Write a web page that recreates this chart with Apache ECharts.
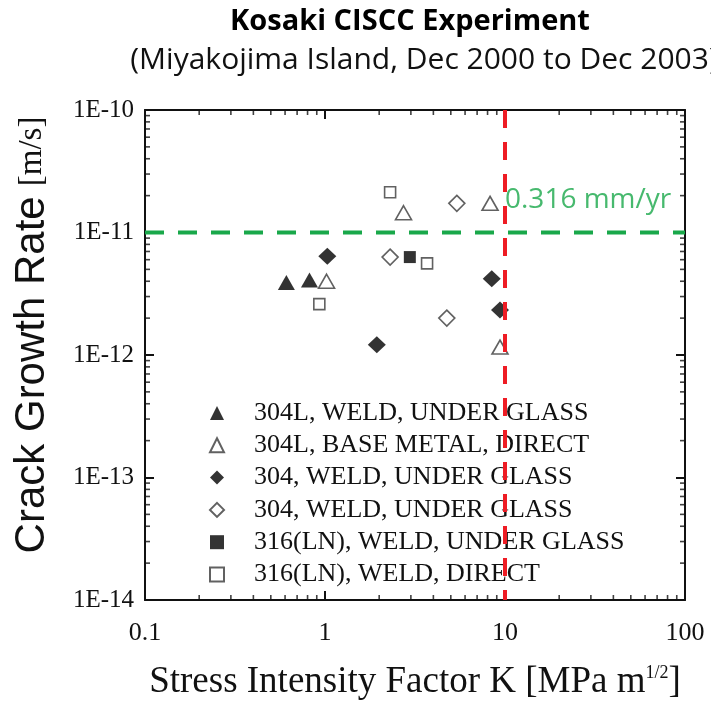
<!DOCTYPE html>
<html>
<head>
<meta charset="utf-8">
<script src="https://cdn.jsdelivr.net/npm/echarts@6/dist/echarts.min.js"></script>
<style>
html,body{margin:0;padding:0;background:#fff;}
#chart{width:711px;height:702px;}
</style>
</head>
<body>
<div id="chart"></div>
<script>
// ---- data ----
const seriesNames = [
  '304L, WELD, UNDER GLASS',
  '304L, BASE METAL, DIRECT',
  '304, WELD, UNDER GLASS',
  '304, WELD, UNDER GLASS ',
  '316(LN), WELD, UNDER GLASS',
  '316(LN), WELD, DIRECT'
];
const k304LWeldGlass = [0.61, 0.82];
const r304LWeldGlass = [3.9e-12, 4.1e-12];
const k304LBaseDirect = [1.02, 2.73, 8.26, 9.38];
const r304LBaseDirect = [4.0e-12, 1.45e-11, 1.73e-11, 1.16e-12];
const k304WeldGlassA = [1.03, 1.94, 8.44, 9.38];
const r304WeldGlassA = [6.4e-12, 1.21e-12, 4.2e-12, 2.33e-12];
const k304WeldGlassB = [2.30, 5.40, 4.75];
const r304WeldGlassB = [6.3e-12, 1.73e-11, 2.0e-12];
const k316WeldGlass = [2.96];
const r316WeldGlass = [6.3e-12];
const k316WeldDirect = [0.93, 3.69, 2.30];
const r316WeldDirect = [2.6e-12, 5.6e-12, 2.13e-11];

const xMin = 0.1, xMax = 100;
const yMin = 1e-14, yMax = 1e-10;
const thresholdK = 10;          // vertical red line
const thresholdRate = 1e-11;    // horizontal green line
const rateLabel = '0.316 mm/yr';
const rateLabelY = 1.84e-11;

const xMinorTicks = [0.2,0.3,0.4,0.5,0.6,0.7,0.8,0.9, 2,3,4,5,6,7,8,9, 20,30,40,50,60,70,80,90];
const yMinorTicks = [2e-14,3e-14,4e-14,5e-14,6e-14,7e-14,8e-14,9e-14,
                     2e-13,3e-13,4e-13,5e-13,6e-13,7e-13,8e-13,9e-13,
                     2e-12,3e-12,4e-12,5e-12,6e-12,7e-12,8e-12,9e-12,
                     2e-11,3e-11,4e-11,5e-11,6e-11,7e-11,8e-11,9e-11];

const titleText = 'Kosaki CISCC Experiment';
const subtitleText = '(Miyakojima Island, Dec 2000 to Dec 2003)';

// ---- chart ----
const pair = (xs, ys) => xs.map((x, i) => [x, ys[i]]);
const serif = 'Liberation Serif';
const filled = { color: '#000', borderColor: '#000', borderWidth: 0 };
const hollow = { color: '#fff', borderColor: '#3a3a3a', borderWidth: 1.6 };

function scatter(name, data, symbol, size, style) {
  return { type: 'scatter', name, data, symbol, symbolSize: size,
    itemStyle: style, z: 3, silent: true };
}

// minor log ticks drawn as short marks at the frame edges
const TL = 5, TW = 1.6;
function minorTicks(name, data, size, offset) {
  return { type: 'scatter', name, data, symbol: 'rect', symbolSize: size, symbolOffset: offset,
    itemStyle: { color: '#111' }, silent: true, clip: false, z: 8 };
}

const axisLineStyle = { show: true, lineStyle: { color: '#111', width: 2 } };
const majorTick = () => ({ show: true, inside: true, length: 9, lineStyle: { color: '#111', width: 2 } });

const option = {
  backgroundColor: '#fff',
  animation: false,
  graphic: [
    { type: 'text', x: 410, y: 22,
      style: { text: titleText, x: 0, y: 0, align: 'center', verticalAlign: 'middle',
        font: 'bold 29px "Open Sans"', fill: '#000' } },
    { type: 'text', x: 424, y: 60,
      style: { text: subtitleText, x: 0, y: 0, align: 'center', verticalAlign: 'middle',
        font: '30px "Open Sans"', fill: '#111' } }
  ],
  grid: { left: 145, right: 26, top: 110, bottom: 102, containLabel: false, outerBoundsMode: 'none' },
  legend: {
    orient: 'vertical', left: 209, top: 400, padding: 0, itemGap: 6.3,
    itemWidth: 14, itemHeight: 14,
    data: seriesNames,
    textStyle: { fontFamily: serif, fontSize: 26, lineHeight: 26, color: '#111', padding: [0, 0, 0, 25] },
    selectedMode: false
  },
  xAxis: [
    { type: 'log', logBase: 10, min: xMin, max: xMax, position: 'bottom',
      axisLine: axisLineStyle, axisTick: majorTick(), splitLine: { show: false },
      axisLabel: { fontFamily: serif, fontSize: 26, color: '#111', margin: 20,
        formatter: v => String(+(+v).toPrecision(3)) },
      name: '{a|Stress Intensity Factor K [MPa m}{s|1/2}{a|]}',
      nameLocation: 'middle', nameGap: 64,
      nameTextStyle: { rich: {
        a: { fontFamily: serif, fontSize: 37, color: '#111', lineHeight: 36 },
        s: { fontFamily: serif, fontSize: 18, color: '#111', verticalAlign: 'top', lineHeight: 36 }
      } } },
    { type: 'log', logBase: 10, min: xMin, max: xMax, position: 'top',
      axisLine: axisLineStyle, axisTick: majorTick(),
      splitLine: { show: false }, axisLabel: { show: false } }
  ],
  yAxis: [
    { type: 'log', logBase: 10, min: yMin, max: yMax, position: 'left',
      axisLine: axisLineStyle, axisTick: majorTick(), splitLine: { show: false },
      axisLabel: { fontFamily: serif, fontSize: 25, color: '#111', margin: 11,
        formatter: v => '1E' + Math.round(Math.log10(v)) },
      name: '{a|Crack Growth Rate}   {b|[m/s]}',
      nameLocation: 'middle', nameGap: 92, nameRotate: 90,
      nameTextStyle: { padding: [0, 0, 0, 40], rich: {
        a: { fontFamily: 'Liberation Sans', fontSize: 42, color: '#111' },
        b: { fontFamily: serif, fontSize: 33, color: '#111' }
      } } },
    { type: 'log', logBase: 10, min: yMin, max: yMax, position: 'right',
      axisLine: axisLineStyle, axisTick: majorTick(),
      splitLine: { show: false }, axisLabel: { show: false } }
  ],
  series: [
    scatter(seriesNames[0], pair(k304LWeldGlass, r304LWeldGlass), 'triangle', [17, 15], filled),
    scatter(seriesNames[1], pair(k304LBaseDirect, r304LBaseDirect), 'triangle', [16, 14], hollow),
    scatter(seriesNames[2], pair(k304WeldGlassA, r304WeldGlassA), 'diamond', [18, 17], filled),
    scatter(seriesNames[3], pair(k304WeldGlassB, r304WeldGlassB), 'diamond', [16, 16], hollow),
    scatter(seriesNames[4], pair(k316WeldGlass, r316WeldGlass), 'rect', [12, 12], filled),
    scatter(seriesNames[5], pair(k316WeldDirect, r316WeldDirect), 'rect', [11, 11], hollow),
    { type: 'line', name: 'green', data: [[xMin, thresholdRate], [xMax, thresholdRate]],
      symbol: 'none', silent: true, z: 5,
      lineStyle: { color: '#19a84a', width: 4, type: [19, 14] } },
    { type: 'line', name: 'red', data: [[thresholdK, yMax], [thresholdK, yMin]],
      symbol: 'none', silent: true, z: 6,
      lineStyle: { color: '#ee1c24', width: 4, type: [18, 14] } },
    { type: 'scatter', name: 'rateLabel', data: [[thresholdK, rateLabelY]], symbolSize: 0, silent: true, z: 7,
      label: { show: true, position: 'right', distance: 0, formatter: rateLabel,
        fontFamily: 'Open Sans', fontSize: 28, color: '#19a84a' } },
    minorTicks('xMinorBottom', xMinorTicks.map(v => [v, yMin]), [TW, TL], [0, -TL / 2]),
    minorTicks('xMinorTop', xMinorTicks.map(v => [v, yMax]), [TW, TL], [0, TL / 2]),
    minorTicks('yMinorLeft', yMinorTicks.map(v => [xMin, v]), [TL, TW], [TL / 2, 0]),
    minorTicks('yMinorRight', yMinorTicks.map(v => [xMax, v]), [TL, TW], [-TL / 2, 0])
  ]
};

const chart = echarts.init(document.getElementById('chart'), null, { renderer: 'canvas' });
chart.setOption(option);
</script>
</body>
</html>
